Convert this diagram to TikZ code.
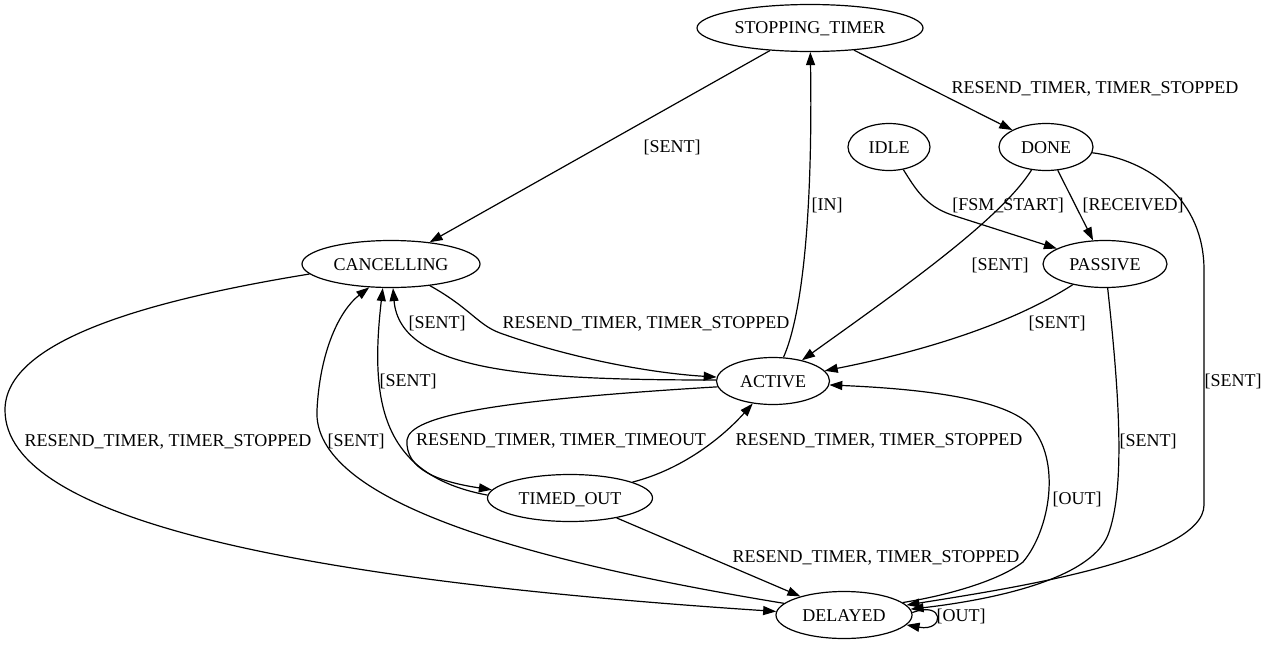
\documentclass[tikz,border=0pt]{standalone}
\usepackage{fontspec}
\setmainfont{Liberation Serif}
\usetikzlibrary{arrows.meta,shapes.geometric}

\begin{document}
\begin{tikzpicture}[x=1pt,y=-1pt,>={Triangle[length=13pt,width=9pt]},line width=1.2pt,font=\fontsize{18}{20}\selectfont]
\tikzstyle{fsm}=[ellipse,draw,inner sep=0pt,minimum height=47pt,text height=12pt,text depth=0pt]
\tikzstyle{lbl}=[inner sep=0pt,text height=12pt,text depth=0pt]
\tikzstyle{go}=[->]
\useasboundingbox (0,0) rectangle (1267,645);
\node[fsm,minimum width=226pt] (STOP) at (810,28) {STOPPING\_TIMER};
\node[fsm,minimum width=82pt] (IDLE) at (889,147) {IDLE};
\node[fsm,minimum width=94pt] (DONE) at (1046,147) {DONE};
\node[fsm,minimum width=178pt] (CANC) at (391,264) {CANCELLING};
\node[fsm,minimum width=124pt] (PASS) at (1105,264) {PASSIVE};
\node[fsm,minimum width=113pt] (ACT) at (773,381) {ACTIVE};
\node[fsm,minimum width=165pt] (TOUT) at (570,498) {TIMED\_OUT};
\node[fsm,minimum width=136pt] (DEL) at (844,615) {DELAYED};
\draw[go] (STOP) -- (CANC);
\draw[go] (STOP) -- (DONE);
\draw[go] (ACT) .. controls (800,320) and (813,230) .. (STOP);
\draw[go] (IDLE) .. controls (915,188) and (925,206) .. (952,215) -- (PASS);
\draw[go] (DONE) -- (PASS);
\draw[go] (DONE) .. controls (1000,220) and (900,290) .. (ACT);
\draw[go] (DONE) .. controls (1150,160) and (1204,200) .. (1204,270) -- (1204,505) .. controls (1204,560) and (1000,590) .. (DEL.9);
\draw[go] (PASS) .. controls (1010,325) and (920,352) .. (ACT);
\draw[go] (PASS) .. controls (1120,400) and (1125,490) .. (1108,535) .. controls (1090,580) and (990,600) .. (DEL.5);
\draw[go] (CANC) .. controls (470,308) and (478,325) .. (500,333) .. controls (570,358) and (650,373) .. (ACT.176);
\draw[go] (ACT.179) .. controls (530,380) and (400,372) .. (CANC);
\draw[go] (TOUT.178) .. controls (380,475) and (370,400) .. (CANC.251);
\draw[go] (DEL.169) .. controls (520,560) and (312,500) .. (317,410) .. controls (320,350) and (340,310) .. (CANC.227);
\draw[go] (CANC.187) .. controls (150,300) and (5,340) .. (5,410) .. controls (5,520) and (300,580) .. (DEL.177);
\draw[go] (ACT.186) .. controls (500,400) and (410,415) .. (407,440) .. controls (405,470) and (440,482) .. (TOUT.174);
\draw[go] (TOUT) .. controls (680,470) and (720,440) .. (ACT);
\draw[go] (TOUT) -- (DEL);
\draw[go] (DEL.12) .. controls (950,595) and (1000,580) .. (1023,562) .. controls (1050,530) and (1062,460) .. (1030,425) .. controls (1000,395) and (900,388) .. (ACT.-4);
\draw[go] (DEL.2) .. controls (945,600) and (945,632) .. (DEL.-9);
\node[lbl] (lStopCanc) at (672,146) {[SENT]};
\node[lbl] (lStopDone) at (1095,87) {RESEND\_TIMER, TIMER\_STOPPED};
\node[lbl] (lIn) at (827,204) {[IN]};
\node[lbl] (lFsm) at (1008,204) {[FSM\_START]};
\node[lbl] (lRecv) at (1133,204) {[RECEIVED]};
\node[lbl] (lDoneAct) at (1000,264) {[SENT]};
\node[lbl] (lPassAct) at (1057,322) {[SENT]};
\node[lbl] (lDoneDel) at (1233,380) {[SENT]};
\node[lbl] (lPassDel) at (1148,440) {[SENT]};
\node[lbl] (lCancAct) at (646,322) {RESEND\_TIMER, TIMER\_STOPPED};
\node[lbl] (lActCanc) at (437,322) {[SENT]};
\node[lbl] (lToutCanc) at (408,380) {[SENT]};
\node[lbl] (lDelCanc) at (356,440) {[SENT]};
\node[lbl] (lCancDel) at (168,440) {RESEND\_TIMER, TIMER\_STOPPED};
\node[lbl] (lActTout) at (561,439) {RESEND\_TIMER, TIMER\_TIMEOUT};
\node[lbl] (lToutAct) at (879,439) {RESEND\_TIMER, TIMER\_STOPPED};
\node[lbl] (lToutDel) at (876,556) {RESEND\_TIMER, TIMER\_STOPPED};
\node[lbl] (lOut) at (1077,498) {[OUT]};
\node[lbl] (lLoop) at (961,615) {[OUT]};
\end{tikzpicture}
\end{document}
